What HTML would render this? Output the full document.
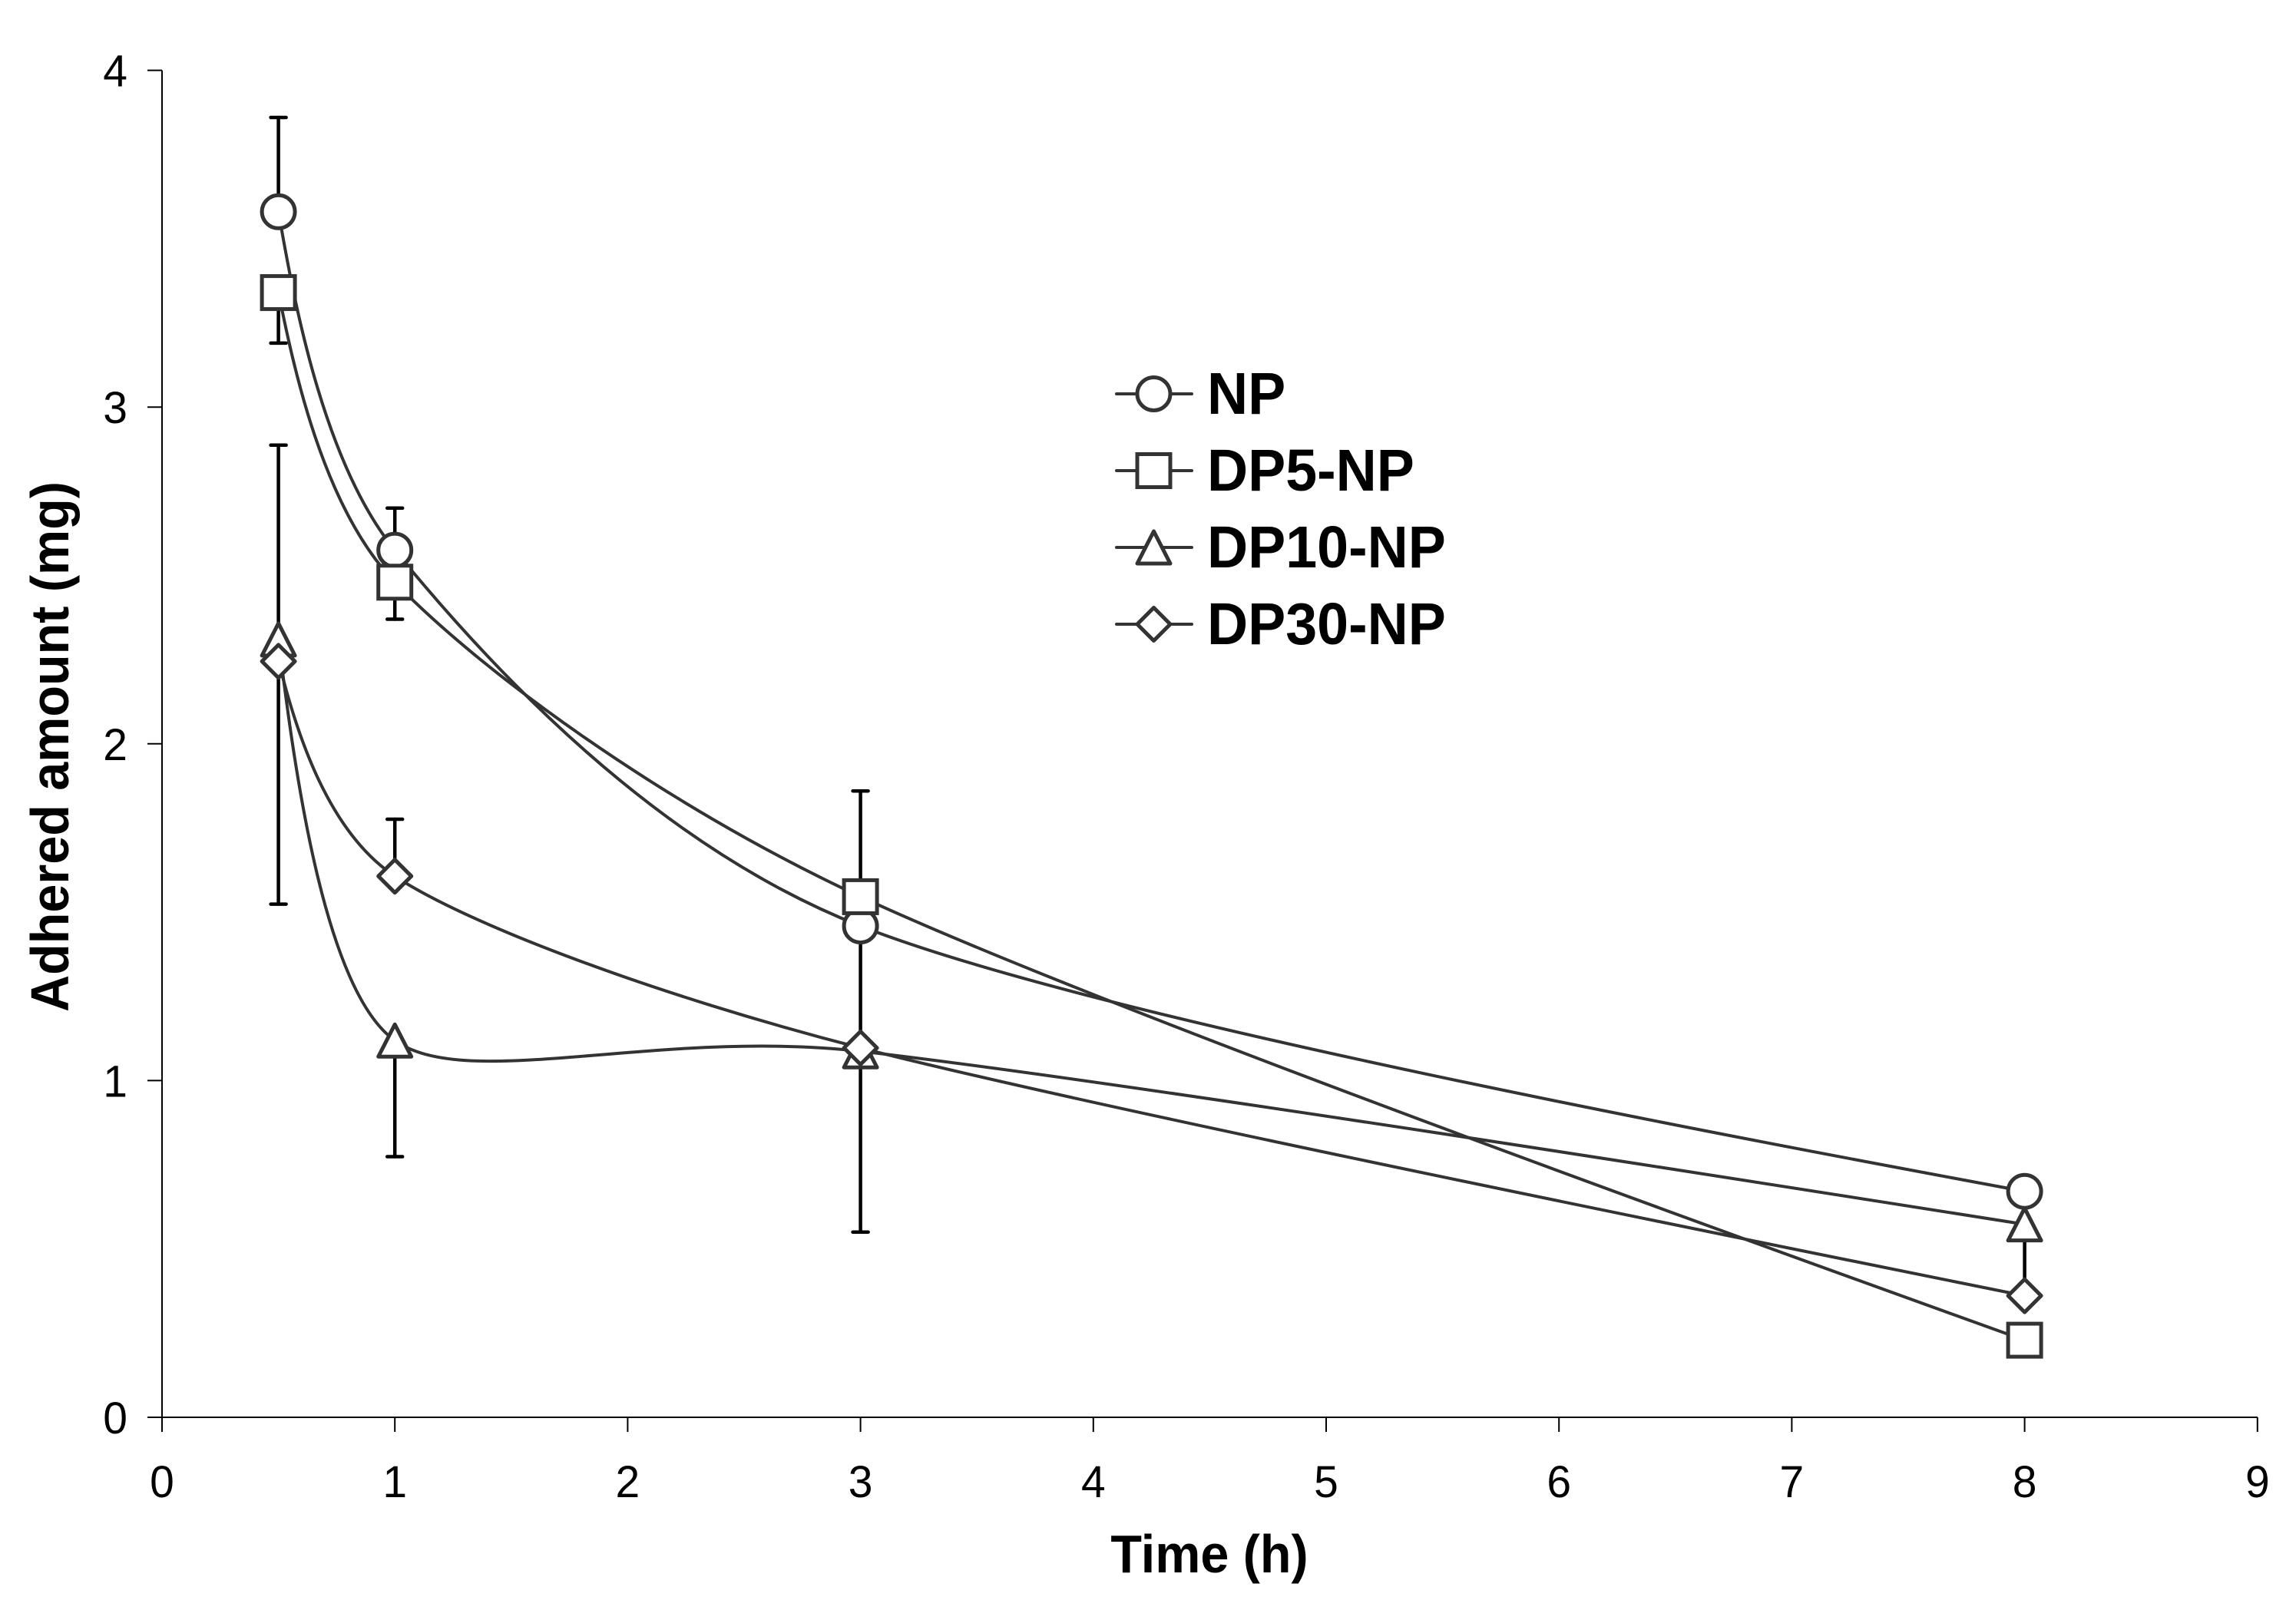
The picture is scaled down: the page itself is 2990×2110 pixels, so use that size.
<!DOCTYPE html>
<html lang="en">
<head>
<meta charset="utf-8">
<title>Adhered amount over time</title>
<style>
html,body{margin:0;padding:0;background:#fff;}
svg{display:block;}
text{font-family:"Liberation Sans",Arial,sans-serif;fill:#000;}
</style>
</head>
<body>
<svg id="chart" xmlns="http://www.w3.org/2000/svg" width="2990" height="2110" viewBox="0 0 2990 2110">
<rect x="0" y="0" width="2990" height="2110" fill="#fff"/>
<text transform="translate(89,972.5) rotate(-90) scale(1,1.04)" text-anchor="middle" font-size="66.5" font-weight="700">Adhered amount (mg)</text>
<text transform="translate(1575,2048) scale(1,1.04)" text-anchor="middle" font-size="66.5" font-weight="700">Time (h)</text>
</svg>
<script>
const times = [0.5, 1, 3, 8];
const seriesNames = ["NP", "DP5-NP", "DP10-NP", "DP30-NP"];
const npValues = [3.58, 2.575, 1.459, 0.671];
const dp5Values = [3.34, 2.48, 1.546, 0.229];
const dp10Values = [2.31, 1.119, 1.087, 0.573];
const dp30Values = [2.245, 1.607, 1.097, 0.361];
const npErrorHigh = [3.86, 2.70, null, null];
const npErrorLow = [null, null, null, null];
const dp5ErrorHigh = [null, null, 1.86, null];
const dp5ErrorLow = [3.19, 2.37, null, null];
const dp10ErrorHigh = [2.887, null, null, null];
const dp10ErrorLow = [null, 0.774, 0.55, null];
const dp30ErrorHigh = [null, 1.776, 1.47, 0.53];
const dp30ErrorLow = [1.524, null, null, null];
const xTickLabels = [0, 1, 2, 3, 4, 5, 6, 7, 8, 9];
const yTickLabels = [0, 1, 2, 3, 4];

const svg = document.getElementById('chart');
const NS = 'http://www.w3.org/2000/svg';
const X0 = 211, X_UNIT = 303.2, Y0 = 1846, Y_UNIT = 438.6;
const SMOOTH_IN = 0.125, SMOOTH_LAST_OUT = 0.145, END_PULL_START = 1 / 3, END_PULL_FINISH = 0.3;
function xScale(v) { return X0 + v * X_UNIT; }
function yScale(v) { return Y0 - v * Y_UNIT; }
function make(tag, attrs, parent) {
  const el = document.createElementNS(NS, tag);
  for (const k in attrs) el.setAttribute(k, attrs[k]);
  (parent || svg).appendChild(el);
  return el;
}

const series = [
  { key: 'np', kind: 'circle', values: npValues, high: npErrorHigh, low: npErrorLow, bend: 0.17 },
  { key: 'dp5', kind: 'square', values: dp5Values, high: dp5ErrorHigh, low: dp5ErrorLow, bend: 0.14 },
  { key: 'dp10', kind: 'triangle', values: dp10Values, high: dp10ErrorHigh, low: dp10ErrorLow, bend: 0.125 },
  { key: 'dp30', kind: 'diamond', values: dp30Values, high: dp30ErrorHigh, low: dp30ErrorLow, bend: 0.125 }
];

/* Axes */
const axisStyle = { stroke: '#000', 'stroke-width': 2, fill: 'none' };
const yAxis = make('line', Object.assign({ x1: xScale(0), x2: xScale(0), y1: yScale(4), y2: yScale(0) }, axisStyle));


const xAxis = make('line', Object.assign({ x1: xScale(0), x2: xScale(9), y1: yScale(0), y2: yScale(0) }, axisStyle));



yTickLabels.forEach(function (v) {
  const tick = make('line', Object.assign({ x1: xScale(0) - 19, x2: xScale(0), y1: yScale(v), y2: yScale(v) }, axisStyle));
  
  
  const label = make('text', { transform: 'translate(166,' + (yScale(v) + 21) + ') scale(1,1.03)', 'text-anchor': 'end', 'font-size': 57 });
  label.textContent = v;
  
  
});
xTickLabels.forEach(function (v) {
  const tick = make('line', Object.assign({ x1: xScale(v), x2: xScale(v), y1: yScale(0), y2: yScale(0) + 19 }, axisStyle));
  
  
  const label = make('text', { transform: 'translate(' + xScale(v) + ',1950) scale(1,1.03)', 'text-anchor': 'middle', 'font-size': 57 });
  label.textContent = v;
  
  
});

/* Error bars sit beneath every series */
function drawError(s, i, limit, dir) {
  if (limit === null) return;
  const x = xScale(times[i]);
  const g = make('g', { stroke: '#000', 'stroke-linecap': 'round', fill: 'none' });
  
  
  make('line', { x1: x, x2: x, y1: yScale(s.values[i]), y2: yScale(limit), 'stroke-width': 4.5 }, g);
  make('line', { x1: x - 10, x2: x + 10, y1: yScale(limit), y2: yScale(limit), 'stroke-width': 4.5 }, g);
}
series.forEach(function (s) {
  times.forEach(function (t, i) {
    drawError(s, i, s.high[i], 'high');
    drawError(s, i, s.low[i], 'low');
  });
});

/* Excel-style smoothed line */
function smoothPath(p, bend) {
  let d = 'M' + p[0][0] + ' ' + p[0][1];
  const last = p.length - 1;
  for (let i = 0; i < last; i++) {
    const a = p[i], b = p[i + 1];
    let c1 = null, c2 = null;
    if (i > 0) {
      const f = i === last - 1 ? SMOOTH_LAST_OUT : bend;
      c1 = [a[0] + f * (b[0] - p[i - 1][0]), a[1] + f * (b[1] - p[i - 1][1])];
    }
    if (i < last - 1) {
      c2 = [b[0] - SMOOTH_IN * (p[i + 2][0] - a[0]), b[1] - SMOOTH_IN * (p[i + 2][1] - a[1])];
    }
    if (!c1) c1 = [a[0] + (c2[0] - a[0]) * END_PULL_START, a[1] + (c2[1] - a[1]) * END_PULL_START];
    if (!c2) c2 = [b[0] + (c1[0] - b[0]) * END_PULL_FINISH, b[1] + (c1[1] - b[1]) * END_PULL_FINISH];
    d += 'C' + c1[0] + ' ' + c1[1] + ' ' + c2[0] + ' ' + c2[1] + ' ' + b[0] + ' ' + b[1];
  }
  return d;
}

function drawMarker(kind, cx, cy, parent) {
  const style = { fill: '#fff', stroke: '#333', 'stroke-width': 5, 'stroke-linejoin': 'round' };
  if (kind === 'circle') return make('circle', Object.assign({ cx: cx, cy: cy, r: 21.5 }, style), parent);
  if (kind === 'square') return make('rect', Object.assign({ x: cx - 21.5, y: cy - 21.5, width: 43, height: 43 }, style, { 'stroke-linejoin': 'miter' }), parent);
  if (kind === 'triangle') return make('polygon', Object.assign({ points: cx + ',' + (cy - 21) + ' ' + (cx + 21.5) + ',' + (cy + 21) + ' ' + (cx - 21.5) + ',' + (cy + 21) }, style), parent);
  return make('polygon', Object.assign({ points: cx + ',' + (cy - 21.5) + ' ' + (cx + 21.5) + ',' + cy + ' ' + cx + ',' + (cy + 21.5) + ' ' + (cx - 21.5) + ',' + cy }, style), parent);
}

series.forEach(function (s) {
  const g = make('g', {});
  
  
  const pts = times.map(function (t, i) { return [xScale(t), yScale(s.values[i])]; });
  const line = make('path', { d: smoothPath(pts, s.bend), fill: 'none', stroke: '#333', 'stroke-width': 4 }, g);
  
  
  pts.forEach(function (p, i) {
    const m = drawMarker(s.kind, p[0], p[1], g);
    
    
  });
});

/* Legend */
const legend = make('g', {});


series.forEach(function (s, i) {
  const cy = 513 + i * 100;
  const entry = make('g', {}, legend);
  
  
  const ln = make('line', { x1: 1454, x2: 1552, y1: cy, y2: cy, stroke: '#333', 'stroke-width': 4, 'stroke-linecap': 'round' }, entry);
  
  
  const m = drawMarker(s.kind, 1502.5, cy, entry);
  
  
  const label = make('text', { transform: 'translate(1572,' + (cy + 26) + ') scale(1,1.04)', 'font-size': 73.6, 'font-weight': 700 }, entry);
  label.textContent = seriesNames[i];
  
  
});
</script>
</body>
</html>
